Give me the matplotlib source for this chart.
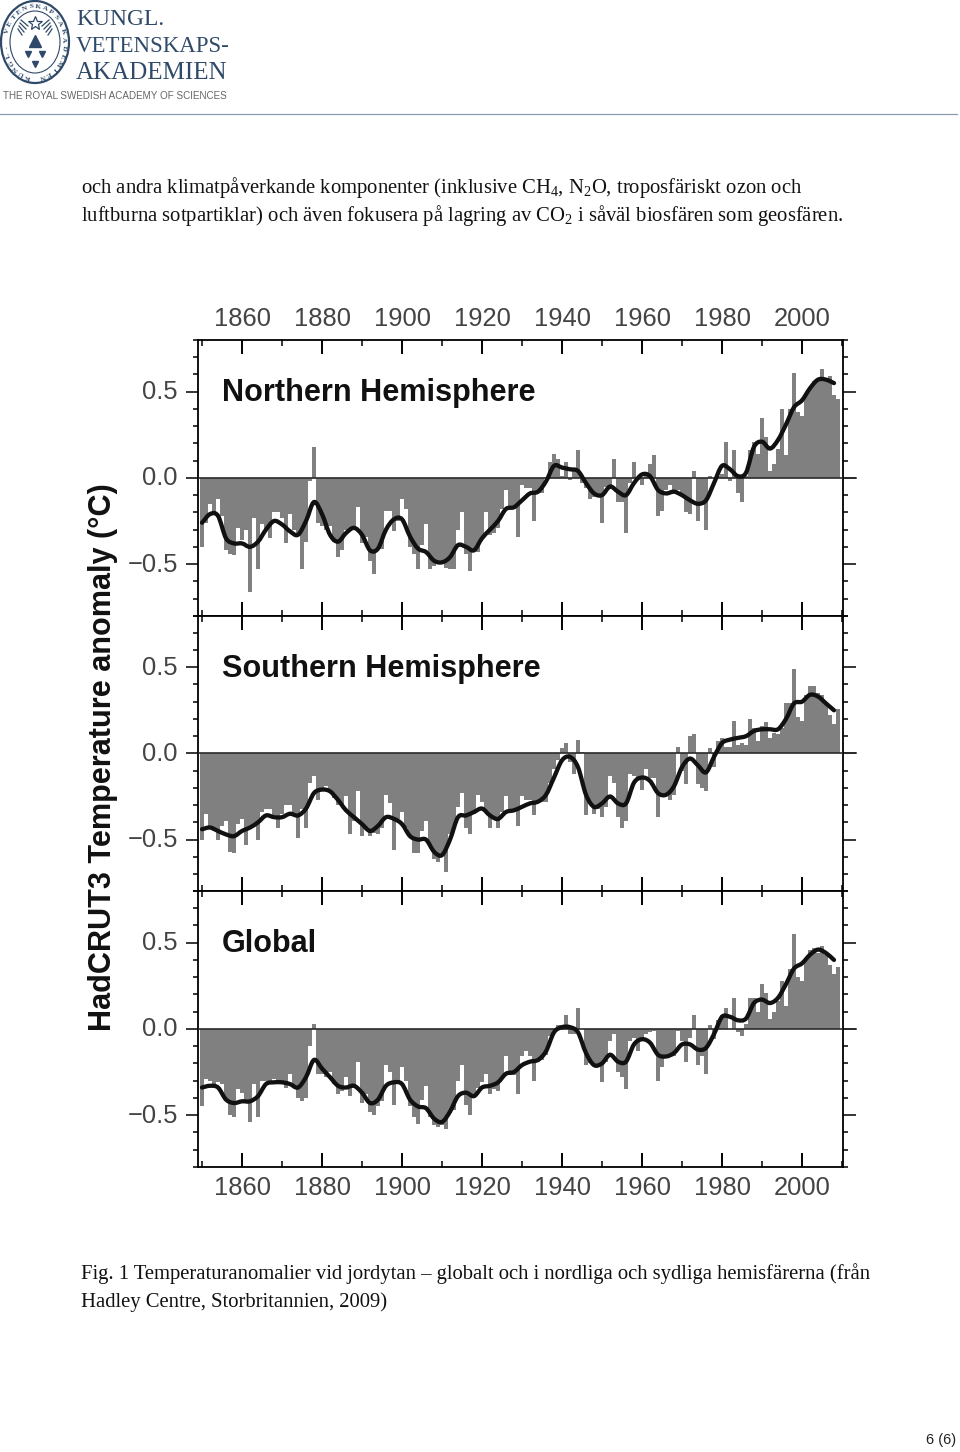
import numpy as np
import matplotlib
matplotlib.use('Agg')
import matplotlib.pyplot as plt
from matplotlib.patches import Ellipse, PathPatch
from matplotlib.path import Path
from matplotlib.transforms import ScaledTranslation

plt.rcParams['mathtext.fontset'] = 'custom'
plt.rcParams['mathtext.rm'] = 'Liberation Serif'
plt.rcParams['mathtext.default'] = 'rm'

W, H = 960, 1452
years = np.arange(1850, 2010)
smooth_years = np.arange(1850, 2010, 2)

north_bars = [
    -0.40, -0.26, -0.15, -0.20, -0.12, -0.22, -0.42, -0.44, -0.45, -0.29,
    -0.36, -0.30, -0.66, -0.23, -0.53, -0.27, -0.30, -0.35, -0.20, -0.20,
    -0.23, -0.38, -0.21, -0.30, -0.32, -0.53, -0.37, -0.02, 0.18, -0.26,
    -0.28, -0.30, -0.28, -0.37, -0.46, -0.42, -0.30, -0.31, -0.30, -0.17,
    -0.38, -0.34, -0.48, -0.56, -0.41, -0.41, -0.19, -0.19, -0.31, -0.25,
    -0.12, -0.18, -0.40, -0.44, -0.53, -0.39, -0.27, -0.53, -0.51, -0.50,
    -0.50, -0.52, -0.53, -0.53, -0.30, -0.20, -0.44, -0.54, -0.42, -0.43,
    -0.34, -0.20, -0.33, -0.32, -0.29, -0.18, -0.07, -0.18, -0.18, -0.34,
    -0.04, -0.06, -0.06, -0.25, -0.09, -0.09, 0.00, 0.09, 0.14, 0.11,
    0.01, 0.09, -0.01, 0.04, 0.16, -0.03, -0.06, -0.12, -0.11, -0.10,
    -0.26, -0.05, -0.04, 0.11, -0.14, -0.14, -0.32, -0.03, 0.09, -0.01,
    -0.04, 0.03, 0.08, 0.13, -0.22, -0.19, -0.07, -0.04, -0.08, -0.07,
    -0.10, -0.20, -0.21, 0.04, -0.25, -0.15, -0.30, 0.01, 0.00, 0.01,
    0.02, 0.21, -0.02, 0.16, -0.09, -0.14, 0.01, 0.16, 0.21, 0.14,
    0.35, 0.24, 0.04, 0.08, 0.17, 0.40, 0.13, 0.40, 0.61, 0.38,
    0.36, 0.48, 0.53, 0.56, 0.56, 0.63, 0.56, 0.59, 0.48, 0.46,
]
north_smooth = [
    -0.26, -0.21, -0.22, -0.35, -0.38, -0.38, -0.40, -0.37, -0.30, -0.25,
    -0.27, -0.31, -0.33, -0.25, -0.14, -0.21, -0.33, -0.37, -0.32, -0.29,
    -0.33, -0.42, -0.41, -0.30, -0.24, -0.24, -0.34, -0.41, -0.43, -0.48,
    -0.49, -0.46, -0.39, -0.40, -0.42, -0.35, -0.30, -0.25, -0.18, -0.17,
    -0.13, -0.09, -0.08, -0.02, 0.07, 0.06, 0.05, 0.04, -0.03, -0.09,
    -0.10, -0.05, -0.08, -0.10, -0.03, 0.02, 0.01, -0.07, -0.09, -0.08,
    -0.10, -0.13, -0.15, -0.13, -0.03, 0.07, 0.05, 0.01, 0.03, 0.18,
    0.21, 0.17, 0.22, 0.31, 0.41, 0.45, 0.52, 0.57, 0.57, 0.55,
]

south_bars = [
    -0.50, -0.35, -0.43, -0.45, -0.50, -0.42, -0.39, -0.57, -0.58, -0.41,
    -0.38, -0.53, -0.43, -0.41, -0.50, -0.34, -0.32, -0.32, -0.36, -0.43,
    -0.35, -0.30, -0.30, -0.36, -0.49, -0.32, -0.43, -0.17, -0.13, -0.27,
    -0.22, -0.19, -0.22, -0.26, -0.30, -0.30, -0.25, -0.47, -0.39, -0.22,
    -0.48, -0.43, -0.48, -0.46, -0.47, -0.43, -0.24, -0.29, -0.56, -0.38,
    -0.34, -0.43, -0.48, -0.58, -0.58, -0.45, -0.39, -0.53, -0.61, -0.63,
    -0.59, -0.69, -0.47, -0.42, -0.31, -0.23, -0.43, -0.47, -0.35, -0.24,
    -0.28, -0.34, -0.43, -0.38, -0.43, -0.34, -0.25, -0.33, -0.33, -0.42,
    -0.25, -0.27, -0.27, -0.36, -0.28, -0.28, -0.28, -0.17, -0.09, -0.04,
    0.03, 0.06, -0.05, -0.12, 0.08, 0.01, -0.36, -0.28, -0.35, -0.32,
    -0.37, -0.31, -0.13, -0.17, -0.37, -0.43, -0.39, -0.12, -0.13, -0.14,
    -0.21, -0.09, -0.14, -0.14, -0.37, -0.24, -0.25, -0.27, -0.24, 0.04,
    -0.10, -0.18, 0.10, 0.11, -0.18, -0.20, -0.22, 0.03, -0.08, 0.07,
    0.09, 0.04, 0.04, 0.19, 0.05, 0.06, 0.05, 0.20, 0.15, 0.07,
    0.16, 0.18, 0.09, 0.12, 0.11, 0.15, 0.29, 0.29, 0.49, 0.21,
    0.19, 0.34, 0.39, 0.39, 0.35, 0.34, 0.29, 0.22, 0.17, 0.26,
]
south_smooth = [
    -0.44, -0.43, -0.45, -0.47, -0.48, -0.45, -0.43, -0.40, -0.36, -0.37,
    -0.37, -0.35, -0.36, -0.32, -0.23, -0.21, -0.22, -0.27, -0.33, -0.37,
    -0.41, -0.45, -0.42, -0.37, -0.38, -0.41, -0.48, -0.50, -0.50, -0.57,
    -0.59, -0.50, -0.37, -0.36, -0.34, -0.32, -0.36, -0.38, -0.34, -0.33,
    -0.31, -0.29, -0.28, -0.24, -0.14, -0.04, -0.02, -0.08, -0.24, -0.31,
    -0.29, -0.25, -0.29, -0.29, -0.17, -0.14, -0.16, -0.23, -0.24, -0.19,
    -0.08, -0.03, -0.07, -0.11, -0.02, 0.06, 0.08, 0.09, 0.10, 0.13,
    0.14, 0.14, 0.14, 0.20, 0.29, 0.30, 0.34, 0.33, 0.29, 0.25,
]

global_bars = [
    -0.45, -0.29, -0.30, -0.32, -0.31, -0.32, -0.42, -0.50, -0.51, -0.35,
    -0.37, -0.41, -0.54, -0.32, -0.51, -0.30, -0.30, -0.31, -0.29, -0.30,
    -0.30, -0.34, -0.26, -0.34, -0.40, -0.42, -0.40, -0.10, 0.03, -0.26,
    -0.26, -0.28, -0.25, -0.32, -0.38, -0.36, -0.28, -0.39, -0.34, -0.19,
    -0.43, -0.38, -0.48, -0.50, -0.45, -0.42, -0.21, -0.25, -0.44, -0.31,
    -0.22, -0.30, -0.45, -0.51, -0.55, -0.41, -0.33, -0.51, -0.56, -0.57,
    -0.56, -0.58, -0.49, -0.47, -0.30, -0.21, -0.44, -0.50, -0.38, -0.34,
    -0.31, -0.26, -0.38, -0.35, -0.36, -0.29, -0.16, -0.27, -0.27, -0.38,
    -0.16, -0.13, -0.16, -0.30, -0.19, -0.18, -0.15, -0.04, -0.01, 0.02,
    0.02, 0.08, -0.03, -0.03, 0.12, 0.00, -0.21, -0.20, -0.21, -0.21,
    -0.31, -0.19, -0.07, -0.03, -0.25, -0.28, -0.35, -0.07, -0.05, -0.13,
    -0.07, -0.03, -0.02, -0.01, -0.30, -0.22, -0.17, -0.16, -0.16, -0.01,
    -0.07, -0.19, -0.05, 0.08, -0.21, -0.16, -0.26, 0.02, -0.06, 0.05,
    0.08, 0.12, 0.00, 0.18, -0.02, -0.04, 0.03, 0.18, 0.18, 0.10,
    0.26, 0.21, 0.06, 0.10, 0.16, 0.28, 0.13, 0.35, 0.55, 0.30,
    0.28, 0.40, 0.46, 0.47, 0.44, 0.48, 0.43, 0.37, 0.32, 0.36,
]
global_smooth = [
    -0.34, -0.33, -0.34, -0.41, -0.43, -0.42, -0.42, -0.39, -0.32, -0.31,
    -0.31, -0.32, -0.34, -0.28, -0.18, -0.23, -0.28, -0.33, -0.34, -0.33,
    -0.37, -0.43, -0.41, -0.33, -0.31, -0.32, -0.41, -0.45, -0.46, -0.52,
    -0.54, -0.48, -0.39, -0.37, -0.39, -0.34, -0.33, -0.31, -0.26, -0.25,
    -0.21, -0.19, -0.18, -0.13, -0.02, 0.01, 0.01, -0.02, -0.14, -0.21,
    -0.20, -0.15, -0.19, -0.19, -0.09, -0.06, -0.08, -0.15, -0.16, -0.14,
    -0.09, -0.09, -0.12, -0.11, -0.03, 0.07, 0.07, 0.05, 0.06, 0.15,
    0.17, 0.15, 0.18, 0.26, 0.35, 0.38, 0.43, 0.46, 0.44, 0.40,
]

panel_names = ['Northern Hemisphere', 'Southern Hemisphere', 'Global']
panel_bars = [north_bars, south_bars, global_bars]
panel_smooth = [north_smooth, south_smooth, global_smooth]
panel_tops = [340, 615.5, 891]
panel_h = 275.8
ax_left, ax_right = 198, 843


def curve_through(xs, ys):
    # bezier path through the read points, so the line bends instead of kinking
    pts = np.column_stack([xs, ys])
    tang = np.gradient(pts, axis=0) / 3
    verts = [pts[0]]
    codes = [Path.MOVETO]
    for a in range(len(pts) - 1):
        verts += [pts[a] + tang[a], pts[a + 1] - tang[a + 1], pts[a + 1]]
        codes += [Path.CURVE4] * 3
    return Path(verts, codes)


fig = plt.figure(figsize=(W / 100, H / 100), dpi=100, facecolor='white')
label_shift = ScaledTranslation(0, 2 / 100, fig.dpi_scale_trans)

for i in range(3):
    ax = fig.add_axes([ax_left / W, 1 - (panel_tops[i] + panel_h) / H,
                       (ax_right - ax_left) / W, panel_h / H])
    ax.bar(years, panel_bars[i], width=1.0, color='#808080', linewidth=0)
    ax.axhline(0, color='#2a2a2a', lw=1.2, zorder=3)
    ax.plot([2010.25, 2013.5], [0, 0], color='#2a2a2a', lw=1.2, clip_on=False)
    ax.add_patch(PathPatch(curve_through(smooth_years, panel_smooth[i]), fill=False,
                           ec='#111111', lw=3.1, zorder=4, joinstyle='round', capstyle='round'))
    ax.set_xlim(1849, 2010.25)
    ax.set_ylim(-0.8, 0.8)
    ax.set_xticks(np.arange(1860, 2001, 20))
    ax.set_xticks(np.arange(1850, 2011, 20), minor=True)
    ax.set_yticks([-0.5, 0.0, 0.5])
    ax.set_yticklabels(['\u22120.5', '0.0', '0.5'])
    ax.set_yticks(np.arange(-8, 9) / 10, minor=True)
    ax.tick_params(axis='x', which='major', direction='in', top=True, bottom=True,
                   length=10, width=1.4, pad=6.5, labelsize=18.4, labelcolor='#444444',
                   labeltop=(i == 0), labelbottom=(i == 2))
    ax.tick_params(axis='x', which='minor', direction='in', top=True, bottom=True,
                   length=4.3, width=1.1)
    ax.tick_params(axis='y', which='major', direction='out', left=True, right=True,
                   length=9, width=1.1, pad=5.5, labelsize=18.4, labelcolor='#444444')
    ax.tick_params(axis='y', which='minor', direction='out', left=True, right=True,
                   length=3.6, width=1.1)
    for lab in ax.get_xticklabels() + ax.get_yticklabels():
        lab.set_family('Liberation Sans')
    for lab in ax.get_yticklabels():
        lab.set_transform(lab.get_transform() + label_shift)
    for s in ax.spines.values():
        s.set_linewidth(1.3)

# page furniture, in pixel coordinates
page = fig.add_axes([0, 0, 1, 1], zorder=10)
page.set_xlim(0, W)
page.set_ylim(H, 0)
page.axis('off')

title_y = [392.5, 668.5, 944.5]
for name, y in zip(panel_names, title_y):
    page.text(222, y, name, family='Liberation Sans', weight='bold', fontsize=22.1,
              color='#111111', va='center', ha='left')
page.text(103, 757, 'HadCRUT3 Temperature anomaly (\u00b0C)', family='Liberation Sans',
          weight='bold', fontsize=22.1, color='#111111', rotation=90, va='center', ha='center')

body = dict(family='Liberation Serif', fontsize=14.83, color='#111111', va='baseline', ha='left')
page.text(81, 193.5, 'och andra klimatpåverkande komponenter (inklusive CH$_4$, N$_2$O, '
          'troposfäriskt ozon och', **body)
page.text(81, 221.5, 'luftburna sotpartiklar) och även fokusera på lagring av CO$_2$ i såväl '
          'biosfären som geosfären.', **body)
page.text(81, 1279, 'Fig. 1 Temperaturanomalier vid jordytan – globalt och i nordliga och '
          'sydliga hemisfärerna (från', **body)
page.text(81, 1307, 'Hadley Centre, Storbritannien, 2009)', **body)
page.text(956, 1440, '6 (6)', family='Liberation Sans', fontsize=10.5, color='#222222',
          va='center', ha='right')

# logo
navy = '#2f4a68'
page.add_patch(Ellipse((35, 42), 68, 82, fill=False, ec=navy, lw=1.6))
page.add_patch(Ellipse((35, 42), 50, 62, fill=False, ec=navy, lw=0.8))
seal_text = 'KUNGL. VETENSKAPSAKADEMIEN'
for k, ch in enumerate(seal_text):
    a = np.radians(-165 + 330 * k / (len(seal_text) - 1))
    page.text(35 + 29 * np.sin(a), 42 - 35.5 * np.cos(a), ch, family='Liberation Serif',
              fontsize=5.4, weight='bold', color=navy, ha='center', va='center',
              rotation=-np.degrees(a))
page.plot([35], [23], marker='*', ms=10, mfc='white', mec=navy, mew=0.9, ls='none')
for side in (-1, 1):
    for k in range(4):
        page.plot([35 + side * (7 + 2 * k), 35 + side * (14 + k)],
                  [26 + 3 * k, 20 + 3 * k], color=navy, lw=0.9)
page.plot([35], [41], marker='^', ms=8, color=navy, ls='none')
page.plot([28, 42, 35], [54, 54, 64], marker='v', ms=5, color=navy, ls='none')
logo_lines = ['KUNGL.', 'VETENSKAPS-', 'AKADEMIEN']
logo_sizes = [16.9, 16.5, 18.0]
logo_y = [25, 52, 79]
for txt, sz, y in zip(logo_lines, logo_sizes, logo_y):
    page.text(76, y, txt, family='Liberation Serif', fontsize=sz, color=navy,
              va='baseline', ha='left')
page.text(3, 96, 'THE ROYAL SWEDISH ACADEMY OF SCIENCES', family='Liberation Sans',
          fontsize=7.1, color='#666666', va='center', ha='left')
page.plot([0, 957], [114, 114], color='#8a9bb0', lw=0.9)

fig.savefig('out.png', dpi=100)
